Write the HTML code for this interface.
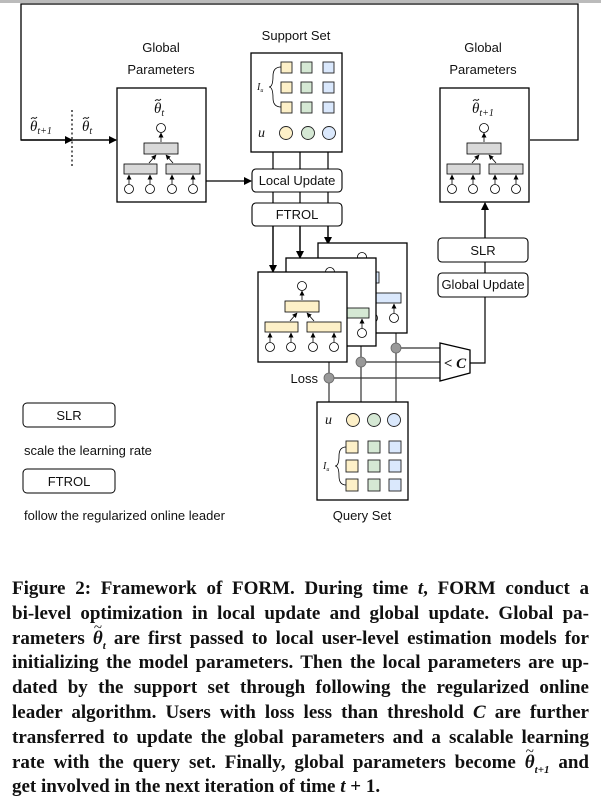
<!DOCTYPE html>
<html><head><meta charset="utf-8"><style>
html,body{margin:0;padding:0;background:#fff;width:601px;height:805px;overflow:hidden}
svg{position:absolute;left:0;top:0}
.s{font-family:"Liberation Sans",sans-serif;font-size:13px;fill:#111}
.m{font-family:"Liberation Serif",serif;font-style:italic;fill:#111}
#cap{position:absolute;left:12px;top:577px;width:577px;font-family:"Liberation Serif",serif;font-weight:bold;font-size:19px;line-height:24.8px;color:#111}
#cap div{text-align:justify;text-align-last:justify;white-space:nowrap;height:24.8px}
#cap div.l{text-align-last:left}
.th{position:relative;display:inline-block;font-style:italic}
.th b{position:absolute;left:1px;top:-11px;font-weight:normal;font-style:normal;font-size:15px}
</style></head><body>
<svg width="601" height="805" viewBox="0 0 601 805">
<defs>
<marker id="a" markerWidth="8" markerHeight="8" refX="7" refY="4" orient="auto" markerUnits="userSpaceOnUse"><path d="M0,0 L8,4 L0,8z" fill="#000"/></marker>
<marker id="sa" markerWidth="5" markerHeight="5" refX="4.5" refY="2.5" orient="auto" markerUnits="userSpaceOnUse"><path d="M0,0 L5,2.5 L0,5z" fill="#000"/></marker>
<path id="tl" d="M0,2 Q1.5,0 3,1 T6,0" fill="none" stroke="#000" stroke-width="0.9"/>
<g id="net">
<circle cx="0" cy="0" r="4.5" fill="#fff" stroke="#000" stroke-width="0.8"/>
<line x1="0" y1="14" x2="0" y2="5" stroke="#000" stroke-width="0.8" marker-end="url(#sa)"/>
<line x1="-12" y1="35" x2="-5" y2="27" stroke="#000" stroke-width="0.8" marker-end="url(#sa)"/>
<line x1="12" y1="35" x2="5" y2="27" stroke="#000" stroke-width="0.8" marker-end="url(#sa)"/>
<g stroke="#000" stroke-width="0.8" fill="#fff">
<line x1="-32" y1="56" x2="-32" y2="47" marker-end="url(#sa)"/>
<line x1="-11" y1="56" x2="-11" y2="47" marker-end="url(#sa)"/>
<line x1="11" y1="56" x2="11" y2="47" marker-end="url(#sa)"/>
<line x1="32" y1="56" x2="32" y2="47" marker-end="url(#sa)"/>
<circle cx="-32" cy="61" r="4.5"/><circle cx="-11" cy="61" r="4.5"/><circle cx="11" cy="61" r="4.5"/><circle cx="32" cy="61" r="4.5"/>
</g>
</g>
</defs>
<rect x="0" y="0" width="601" height="3" fill="#bbb"/>
<polyline points="116,140 21,140 21,4 578,4 578,140 530,140" fill="none" stroke="#000" stroke-width="1.3"/>
<line x1="21" y1="140" x2="116" y2="140" stroke="#000" stroke-width="1.3" marker-end="url(#a)"/>
<line x1="21" y1="140" x2="72" y2="140" stroke="#000" stroke-width="1.3" marker-end="url(#a)"/>
<line x1="72" y1="110" x2="72" y2="166" stroke="#000" stroke-width="1.2" stroke-dasharray="2,2.5"/>
<text class="m" x="30" y="131" font-size="15">θ<tspan font-size="10" dy="3">t+1</tspan></text><use href="#tl" x="31" y="117"/>
<text class="m" x="82" y="131" font-size="15">θ<tspan font-size="10" dy="3">t</tspan></text><use href="#tl" x="83" y="117"/>
<text class="s" x="161" y="52" text-anchor="middle">Global</text>
<text class="s" x="161" y="74" text-anchor="middle">Parameters</text>
<rect x="117" y="88" width="89" height="114" fill="#fff" stroke="#000" stroke-width="1.3"/>
<text class="m" x="154" y="113" font-size="15">θ<tspan font-size="10" dy="3">t</tspan></text><use href="#tl" x="155" y="99"/>
<g transform="translate(161,128)">
<use href="#net"/>
<rect x="-17" y="15" width="34" height="11" fill="#d9d9d9" stroke="#000" stroke-width="0.8"/>
<rect x="-37" y="36" width="33" height="10" fill="#d9d9d9" stroke="#000" stroke-width="0.8"/>
<rect x="5" y="36" width="34" height="10" fill="#d9d9d9" stroke="#000" stroke-width="0.8"/>
</g>
<line x1="206" y1="181" x2="251" y2="181" stroke="#000" stroke-width="1.3" marker-end="url(#a)"/>
<text class="s" x="483" y="52" text-anchor="middle">Global</text>
<text class="s" x="483" y="74" text-anchor="middle">Parameters</text>
<rect x="440" y="88" width="89" height="114" fill="#fff" stroke="#000" stroke-width="1.3"/>
<text class="m" x="472" y="113" font-size="15">θ<tspan font-size="10" dy="3">t+1</tspan></text><use href="#tl" x="473" y="99"/>
<g transform="translate(484,128)">
<use href="#net"/>
<rect x="-17" y="15" width="34" height="11" fill="#d9d9d9" stroke="#000" stroke-width="0.8"/>
<rect x="-37" y="36" width="33" height="10" fill="#d9d9d9" stroke="#000" stroke-width="0.8"/>
<rect x="5" y="36" width="34" height="10" fill="#d9d9d9" stroke="#000" stroke-width="0.8"/>
</g>
<text class="s" x="296" y="40" text-anchor="middle" font-size="13.5">Support Set</text>
<g stroke="#000" stroke-width="1.2">
<line x1="273" y1="152" x2="273" y2="271"/>
<line x1="300" y1="152" x2="300" y2="257"/>
<line x1="328" y1="152" x2="328" y2="243"/>
</g>
<line x1="273" y1="226" x2="273" y2="272" stroke="#000" stroke-width="1.3" marker-end="url(#a)"/>
<line x1="300" y1="226" x2="300" y2="258" stroke="#000" stroke-width="1.3" marker-end="url(#a)"/>
<line x1="328" y1="226" x2="328" y2="244" stroke="#000" stroke-width="1.3" marker-end="url(#a)"/>
<rect x="251" y="53" width="91" height="99" fill="#fff" stroke="#000" stroke-width="1.3"/>
<g stroke="#222" stroke-width="0.9">
<rect x="281" y="62" width="11" height="11" fill="#fdf0c8"/><rect x="301" y="62" width="11" height="11" fill="#d5e8d4"/><rect x="323" y="62" width="11" height="11" fill="#dae8fc"/>
<rect x="281" y="82" width="11" height="11" fill="#fdf0c8"/><rect x="301" y="82" width="11" height="11" fill="#d5e8d4"/><rect x="323" y="82" width="11" height="11" fill="#dae8fc"/>
<rect x="281" y="102" width="11" height="11" fill="#fdf0c8"/><rect x="301" y="102" width="11" height="11" fill="#d5e8d4"/><rect x="323" y="102" width="11" height="11" fill="#dae8fc"/>
<circle cx="286" cy="133" r="6.5" fill="#fdf0c8"/><circle cx="308" cy="133" r="6.5" fill="#d5e8d4"/><circle cx="329" cy="133" r="6.5" fill="#dae8fc"/>
</g>
<path d="M281,67 Q273,67 273,76 Q273,87 269,87 Q273,87 273,98 Q273,107 281,107" fill="none" stroke="#000" stroke-width="0.8"/>
<text class="m" x="257" y="90" font-size="10">I<tspan font-size="6" dy="2">u</tspan></text>
<text class="m" x="258" y="137" font-size="14">u</text>
<rect x="252" y="169" width="90" height="23" rx="4" fill="#fff" stroke="#000" stroke-width="1.1"/>
<text class="s" x="297" y="185" text-anchor="middle" font-size="12">Local Update</text>
<rect x="252" y="203" width="90" height="23" rx="4" fill="#fff" stroke="#000" stroke-width="1.1"/>
<text class="s" x="297" y="219" text-anchor="middle">FTROL</text>
<g stroke="#333" stroke-width="1.2" fill="none">
<line x1="396" y1="333" x2="396" y2="402"/>
<line x1="361" y1="346" x2="361" y2="402"/>
<line x1="329" y1="362" x2="329" y2="402"/>
<line x1="396" y1="348" x2="440" y2="348"/>
<line x1="361" y1="362" x2="440" y2="362"/>
<line x1="329" y1="378" x2="440" y2="378"/>
</g>
<rect x="318" y="243" width="89" height="90" fill="#fff" stroke="#000" stroke-width="1.3"/>
<g transform="translate(362,257)"><use href="#net"/>
<rect x="-17" y="15" width="34" height="11" fill="#dae8fc" stroke="#000" stroke-width="0.8"/>
<rect x="-37" y="36" width="33" height="10" fill="#dae8fc" stroke="#000" stroke-width="0.8"/>
<rect x="5" y="36" width="34" height="10" fill="#dae8fc" stroke="#000" stroke-width="0.8"/></g>
<rect x="286" y="258" width="90" height="88" fill="#fff" stroke="#000" stroke-width="1.3"/>
<g transform="translate(330,272)"><use href="#net"/>
<rect x="-17" y="15" width="34" height="11" fill="#d5e8d4" stroke="#000" stroke-width="0.8"/>
<rect x="-37" y="36" width="33" height="10" fill="#d5e8d4" stroke="#000" stroke-width="0.8"/>
<rect x="5" y="36" width="34" height="10" fill="#d5e8d4" stroke="#000" stroke-width="0.8"/></g>
<rect x="258" y="272" width="89" height="90" fill="#fff" stroke="#000" stroke-width="1.3"/>
<g transform="translate(302,286)"><use href="#net"/>
<rect x="-17" y="15" width="34" height="11" fill="#fdf0c8" stroke="#000" stroke-width="0.8"/>
<rect x="-37" y="36" width="33" height="10" fill="#fdf0c8" stroke="#000" stroke-width="0.8"/>
<rect x="5" y="36" width="34" height="10" fill="#fdf0c8" stroke="#000" stroke-width="0.8"/></g>
<g fill="#999" stroke="#666" stroke-width="0.8">
<circle cx="396" cy="348" r="5"/><circle cx="361" cy="362" r="5"/><circle cx="329" cy="378" r="5"/>
</g>
<text class="s" x="318" y="383" text-anchor="end">Loss</text>
<path d="M440,343 L470,350 L470,373 L440,381 Z" fill="#fff" stroke="#000" stroke-width="1.3"/>
<text class="m" x="455" y="368" text-anchor="middle" font-size="15" font-weight="bold">&lt; C</text>
<polyline points="470,363 485,363 485,297" fill="none" stroke="#000" stroke-width="1.2"/>
<line x1="485" y1="262" x2="485" y2="273" stroke="#000" stroke-width="1.2"/>
<line x1="485" y1="238" x2="485" y2="203" stroke="#000" stroke-width="1.3" marker-end="url(#a)"/>
<rect x="438" y="238" width="90" height="24" rx="4" fill="#fff" stroke="#000" stroke-width="1.1"/>
<text class="s" x="483" y="255" text-anchor="middle">SLR</text>
<rect x="438" y="273" width="90" height="24" rx="4" fill="#fff" stroke="#000" stroke-width="1.1"/>
<text class="s" x="483" y="289" text-anchor="middle" font-size="12">Global Update</text>
<rect x="317" y="402" width="91" height="98" fill="#fff" stroke="#000" stroke-width="1.3"/>
<text class="m" x="325" y="424" font-size="14">u</text>
<g stroke="#222" stroke-width="0.9">
<circle cx="353" cy="420" r="6.5" fill="#fdf0c8"/><circle cx="374" cy="420" r="6.5" fill="#d5e8d4"/><circle cx="394" cy="420" r="6.5" fill="#dae8fc"/>
<rect x="346" y="441" width="12" height="12" fill="#fdf0c8"/><rect x="368" y="441" width="12" height="12" fill="#d5e8d4"/><rect x="389" y="441" width="12" height="12" fill="#dae8fc"/>
<rect x="346" y="460" width="12" height="12" fill="#fdf0c8"/><rect x="368" y="460" width="12" height="12" fill="#d5e8d4"/><rect x="389" y="460" width="12" height="12" fill="#dae8fc"/>
<rect x="346" y="479" width="12" height="12" fill="#fdf0c8"/><rect x="368" y="479" width="12" height="12" fill="#d5e8d4"/><rect x="389" y="479" width="12" height="12" fill="#dae8fc"/>
</g>
<path d="M346,447 Q339,447 339,456 Q339,466 335,466 Q339,466 339,476 Q339,485 346,485" fill="none" stroke="#000" stroke-width="0.8"/>
<text class="m" x="323" y="469" font-size="10">I<tspan font-size="6" dy="2">u</tspan></text>
<text class="s" x="362" y="520" text-anchor="middle">Query Set</text>
<rect x="23" y="403" width="92" height="24" rx="4" fill="#fff" stroke="#000" stroke-width="1"/>
<text class="s" x="69" y="420" text-anchor="middle">SLR</text>
<text class="s" x="24" y="455">scale the learning rate</text>
<rect x="23" y="469" width="92" height="24" rx="4" fill="#fff" stroke="#000" stroke-width="1"/>
<text class="s" x="69" y="486" text-anchor="middle">FTROL</text>
<text class="s" x="24" y="520">follow the regularized online leader</text>
</svg>
<div id="cap">
<div>Figure 2: Framework of FORM. During time <i>t</i>, FORM conduct a</div>
<div>bi-level optimization in local update and global update. Global pa-</div>
<div>rameters <span class="th"><b>~</b>θ<sub style="font-size:11px">t</sub></span> are first passed to local user-level estimation models for</div>
<div>initializing the model parameters. Then the local parameters are up-</div>
<div>dated by the support set through following the regularized online</div>
<div>leader algorithm. Users with loss less than threshold <i>C</i> are further</div>
<div>transferred to update the global parameters and a scalable learning</div>
<div>rate with the query set. Finally, global parameters become <span class="th"><b>~</b>θ<sub style="font-size:11px">t+1</sub></span> and</div>
<div class="l">get involved in the next iteration of time <i>t</i> + 1.</div>
</div>
</body></html>
